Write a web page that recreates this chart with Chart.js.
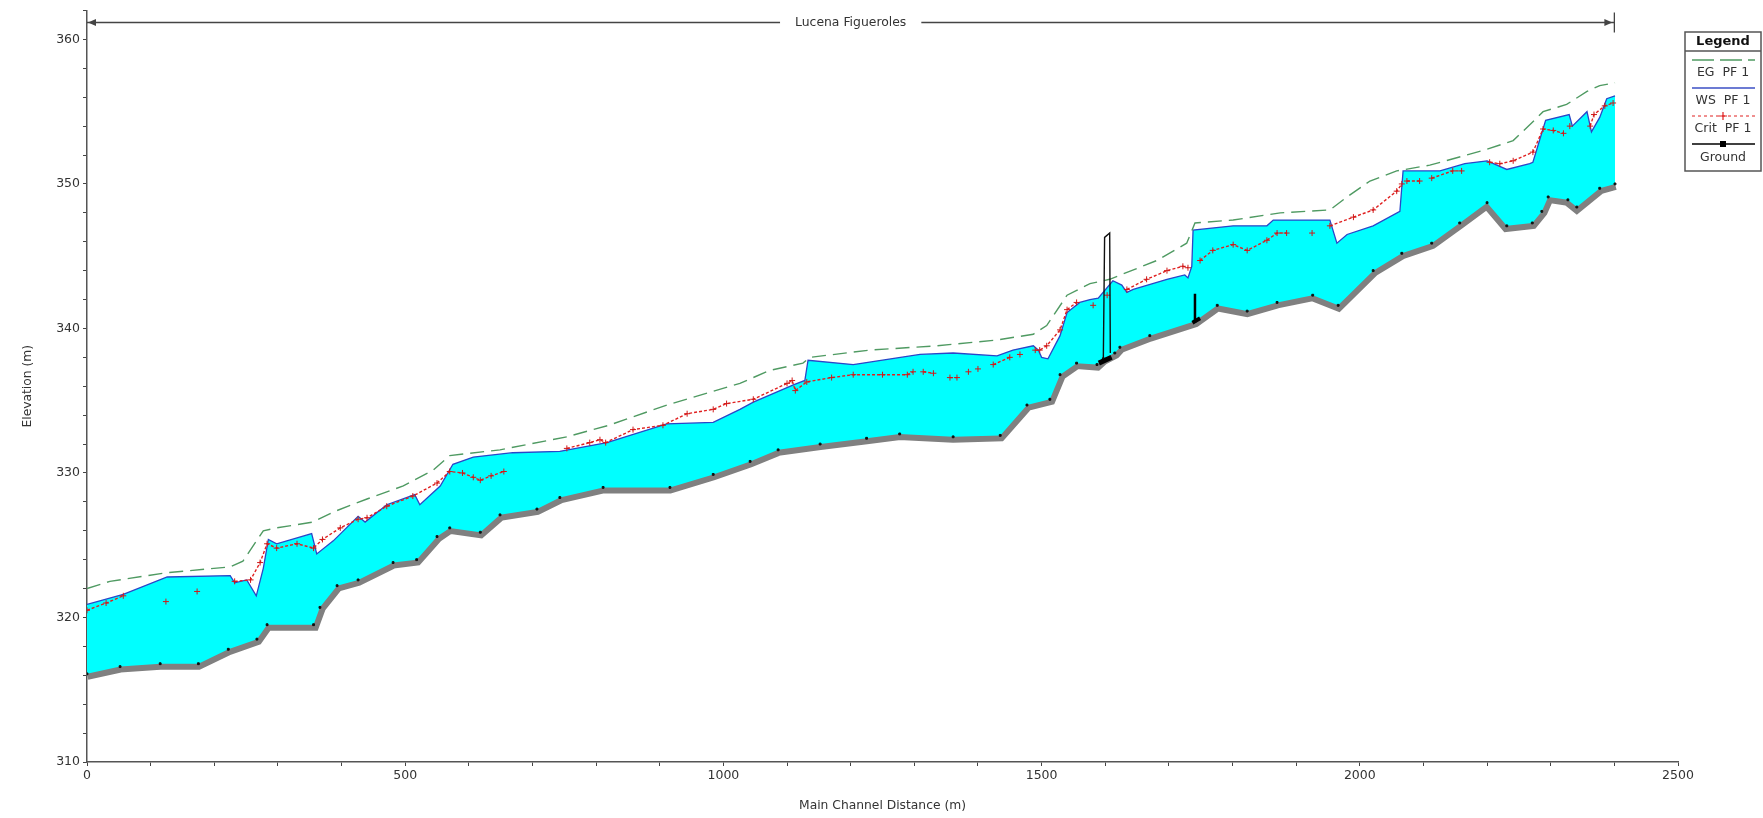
<!DOCTYPE html>
<html>
<head>
<meta charset="utf-8">
<script src="https://cdn.jsdelivr.net/npm/chart.js@4.4.1/dist/chart.umd.min.js"></script>
<style>
html,body{margin:0;padding:0;background:#fff}
#wrap{width:1763px;height:818px}
</style>
</head>
<body>
<div id="wrap"><canvas id="profile" width="1763" height="818"></canvas></div>
<script>

// river reach
let reachName="Lucena Figueroles"
let reachStart=0
let reachEnd=2400
let reachLevel=361.2

// tick labels
let xLabels=[0,500,1000,1500,2000,2500]
let yLabels=[310,320,330,340,350,360]

// Ground
let groundX=[0,52,115,175,222,267,283,356,366,393,426,481,518,550,570,618,649,707,743,811,916,984,1042,1086,1152,1225,1277,1361,1435,1477,1513,1529,1555,1587,1597,1615,1623,1670,1741,1776,1823,1870,1926,1966,2021,2066,2113,2157,2200,2231,2271,2286,2296,2327,2341,2377,2401]
let groundY=[316.1,316.6,316.8,316.8,317.8,318.5,319.5,319.5,320.7,322.2,322.6,323.8,324.0,325.6,326.2,325.9,327.1,327.5,328.3,329.0,329.0,329.9,330.8,331.6,332.0,332.4,332.7,332.5,332.6,334.7,335.1,336.8,337.6,337.5,337.9,338.3,338.7,339.5,340.5,341.6,341.2,341.8,342.3,341.6,344.0,345.2,345.9,347.3,348.7,347.1,347.3,348.1,349.1,348.9,348.4,349.7,350.0]

// WS PF 1
let wsX=[0,57,126,225,232,251,266,277,285,298,353,361,387,426,437,471,515,523,555,575,607,669,743,817,911,984,1026,1047,1110,1128,1133,1204,1309,1361,1430,1455,1487,1495,1500,1510,1529,1540,1560,1576,1589,1612,1626,1634,1644,1697,1725,1730,1736,1738,1801,1854,1864,1953,1964,1980,2021,2063,2068,2126,2165,2200,2210,2231,2267,2272,2292,2329,2334,2357,2364,2377,2388,2401]
let wsY=[320.9,321.6,322.8,322.9,322.4,322.6,321.5,323.4,325.4,325.1,325.8,324.4,325.3,327.0,326.6,327.8,328.5,327.8,329.1,330.6,331.1,331.4,331.5,332.1,333.4,333.5,334.4,334.9,336.1,336.4,337.8,337.5,338.2,338.3,338.1,338.5,338.8,338.5,338.0,337.9,339.5,341.1,341.8,342.0,342.1,343.3,343.0,342.5,342.7,343.4,343.7,343.5,344.3,346.8,347.1,347.1,347.5,347.5,345.9,346.5,347.1,348.1,350.9,350.9,351.4,351.6,351.4,351.0,351.4,351.5,354.4,354.8,354.0,355.0,353.6,354.6,355.9,356.1]

// EG PF 1
let egX=[0,36,126,225,245,277,298,355,387,440,497,544,570,649,754,820,911,1026,1073,1125,1136,1230,1336,1430,1487,1508,1540,1576,1607,1681,1728,1741,1801,1875,1953,1980,2016,2058,2110,2168,2200,2241,2272,2288,2325,2357,2377,2401]
let egY=[322.0,322.5,323.1,323.5,323.9,326.0,326.2,326.6,327.3,328.2,329.1,330.2,331.2,331.6,332.5,333.3,334.7,336.2,337.1,337.6,338.0,338.5,338.8,339.2,339.6,340.2,342.3,343.1,343.4,344.7,345.9,347.3,347.5,348.0,348.2,349.1,350.2,350.9,351.3,352.0,352.4,353.0,354.3,355.0,355.5,356.4,356.8,357.0]

// Crit PF 1 (null = not shown)
let critX=[0,30,57,60,124,150,173,200,232,257,272,283,298,330,356,370,398,426,440,471,512,550,570,590,607,618,635,655,700,754,790,806,815,858,905,943,984,1005,1047,1100,1108,1113,1131,1170,1204,1250,1289,1298,1306,1314,1330,1345,1356,1367,1375,1385,1392,1400,1412,1424,1450,1458,1466,1478,1490,1497,1508,1529,1540,1555,1568,1581,1592,1603,1620,1634,1665,1697,1722,1730,1740,1749,1769,1801,1823,1854,1870,1885,1900,1925,1940,1953,1990,2021,2058,2066,2070,2074,2094,2104,2113,2146,2160,2180,2204,2220,2241,2272,2288,2304,2320,2325,2330,2345,2362,2368,2385,2398]
let critY=[320.5,321.0,321.5,null,321.1,null,321.8,null,322.5,322.6,323.8,325.1,324.8,325.1,324.8,325.4,326.2,326.8,326.9,327.7,328.4,329.3,330.1,330.0,329.7,329.5,329.8,330.1,null,331.7,332.1,332.3,332.1,333.0,333.3,334.1,334.4,334.8,335.1,336.2,336.4,335.7,336.3,336.6,336.8,336.8,336.8,337.0,null,337.0,336.9,null,336.6,336.6,null,337.0,null,337.2,null,337.5,338.0,null,338.2,null,338.5,338.5,338.8,339.9,341.3,341.8,null,341.6,null,342.3,null,342.7,343.4,344.0,344.3,344.2,null,344.7,345.4,345.8,345.4,346.1,346.6,346.6,null,346.6,null,347.1,347.7,348.2,349.5,350.0,null,350.2,350.2,null,350.4,350.9,350.9,null,351.5,351.4,351.6,352.2,353.8,353.7,353.5,null,354.0,null,354.0,354.8,355.4,355.6]

// structures
let bridgeX=[1597,1599,1607,1608]
let bridgeY=[337.9,346.3,346.6,338.3]
let bridgeDeckX=[1590,1610]
let bridgeDeckY=[337.6,338.0]
let weirX=[1741,1741]
let weirY=[340.4,342.4]
let weirBaseX=[1737,1749]
let weirBaseY=[340.4,340.7]

let font="'DejaVu Sans', Verdana, sans-serif"

function pts(xs,ys){
return xs.map(function(x,i){return {x:x,y:ys[i]}})
}

let extras={
id:"extras",
afterDraw(chart){

let ctx=chart.ctx
let xs=chart.scales.x
let ys=chart.scales.y

// reach annotation
let x0=xs.getPixelForValue(reachStart)
let x1=xs.getPixelForValue(reachEnd)
let yr=Math.round(ys.getPixelForValue(reachLevel))+0.5
let xm=xs.getPixelForValue((reachStart+reachEnd)/2)

ctx.save()
ctx.strokeStyle="#444"
ctx.fillStyle="#444"
ctx.lineWidth=1.3
ctx.beginPath()
ctx.moveTo(x0,yr)
ctx.lineTo(x1,yr)
ctx.stroke()
ctx.beginPath()
ctx.moveTo(x1,yr-10)
ctx.lineTo(x1,yr+10)
ctx.stroke()
ctx.beginPath()
ctx.moveTo(x0+1,yr)
ctx.lineTo(x0+9,yr-3.5)
ctx.lineTo(x0+9,yr+3.5)
ctx.closePath()
ctx.fill()
ctx.beginPath()
ctx.moveTo(x1-2,yr)
ctx.lineTo(x1-10,yr-3.5)
ctx.lineTo(x1-10,yr+3.5)
ctx.closePath()
ctx.fill()

ctx.font="12.4px "+font
let tw=ctx.measureText(reachName).width
ctx.fillStyle="#fff"
ctx.fillRect(xm-tw/2-15,yr-8,tw+30,16)
ctx.fillStyle="#333"
ctx.textAlign="center"
ctx.textBaseline="middle"
ctx.fillText(reachName,xm,yr)

// legend box
let bx=1685,by=32,bw=76,bh=139
ctx.fillStyle="#fff"
ctx.fillRect(bx,by,bw,bh)
ctx.strokeStyle="#555"
ctx.lineWidth=1.5
ctx.strokeRect(bx,by,bw,bh)
ctx.beginPath()
ctx.moveTo(bx,by+19)
ctx.lineTo(bx+bw,by+19)
ctx.stroke()
ctx.fillStyle="#111"
ctx.font="bold 13px "+font
ctx.fillText("Legend",bx+bw/2,by+10)

let lx0=bx+7,lx1=bx+bw-6,cx=bx+bw/2
ctx.font="12.5px "+font
ctx.fillStyle="#333"

// EG
ctx.strokeStyle="#4f9a62"
ctx.lineWidth=1.5
ctx.setLineDash([22,6])
ctx.beginPath()
ctx.moveTo(lx0,60)
ctx.lineTo(lx1,60)
ctx.stroke()
ctx.setLineDash([])
ctx.fillText("EG  PF 1",cx,73)

// WS
ctx.strokeStyle="#3b4fc4"
ctx.lineWidth=1.5
ctx.beginPath()
ctx.moveTo(lx0,88)
ctx.lineTo(lx1,88)
ctx.stroke()
ctx.fillText("WS  PF 1",cx,101)

// Crit
ctx.strokeStyle="#e02020"
ctx.lineWidth=1
ctx.setLineDash([3,3])
ctx.beginPath()
ctx.moveTo(lx0,116)
ctx.lineTo(lx1,116)
ctx.stroke()
ctx.setLineDash([])
ctx.lineWidth=1.2
ctx.beginPath()
ctx.moveTo(cx-4,116)
ctx.lineTo(cx+4,116)
ctx.moveTo(cx,112)
ctx.lineTo(cx,120)
ctx.stroke()
ctx.fillText("Crit  PF 1",cx,129)

// Ground
ctx.strokeStyle="#000"
ctx.lineWidth=1.3
ctx.beginPath()
ctx.moveTo(lx0,144)
ctx.lineTo(lx1,144)
ctx.stroke()
ctx.fillStyle="#000"
ctx.fillRect(cx-3,141,6,6)
ctx.fillStyle="#333"
ctx.fillText("Ground",cx,158)

ctx.restore()
}
}

let chart=new Chart(document.getElementById("profile"),{
type:"line",
data:{
datasets:[
{
label:"Ground band",
data:pts(groundX,groundY),
borderColor:"#808080",
borderWidth:12,
borderCapStyle:"butt",
pointRadius:0,
fill:false,
order:10
},
{
label:"WS PF 1",
data:pts(wsX,wsY),
borderColor:"#2a46c8",
borderWidth:1.3,
pointRadius:0,
backgroundColor:"#00ffff",
fill:{target:0},
order:9
},
{
label:"Ground",
data:pts(groundX,groundY),
showLine:false,
pointStyle:"rect",
pointRadius:1.3,
pointBackgroundColor:"#111",
pointBorderColor:"#111",
order:8
},
{
label:"EG PF 1",
data:pts(egX,egY),
borderColor:"#4f9a62",
borderWidth:1.4,
borderDash:[14,7],
pointRadius:0,
fill:false,
order:5
},
{
label:"Crit PF 1",
data:pts(critX,critY),
borderColor:"#e02020",
borderWidth:1.4,
borderDash:[3,2],
pointStyle:"cross",
pointRadius:3,
pointBorderWidth:1,
pointBorderColor:"#d01818",
spanGaps:false,
fill:false,
order:4
},
{
label:"Bridge",
data:pts(bridgeX,bridgeY),
borderColor:"#111",
borderWidth:1.4,
pointRadius:0,
fill:false,
order:2
},
{
label:"Bridge deck",
data:pts(bridgeDeckX,bridgeDeckY),
borderColor:"#000",
borderWidth:5,
borderCapStyle:"butt",
pointRadius:0,
fill:false,
order:2
},
{
label:"Weir",
data:pts(weirX,weirY),
borderColor:"#000",
borderWidth:2.5,
pointRadius:0,
fill:false,
order:1
},
{
label:"Weir base",
data:pts(weirBaseX,weirBaseY),
borderColor:"#000",
borderWidth:4,
pointRadius:0,
fill:false,
order:1
}
]
},
options:{
responsive:false,
animation:false,
layout:{padding:{top:0,right:85,bottom:0,left:0}},
plugins:{legend:{display:false},tooltip:{enabled:false}},
elements:{line:{tension:0}},
scales:{
x:{
type:"linear",
min:0,
max:2500,
afterFit:function(s){s.height=56},
ticks:{
stepSize:100,
autoSkip:false,
maxRotation:0,
padding:2,
color:"#333",
font:{family:font,size:12.5},
callback:function(v){return xLabels.includes(v)?String(v):""}
},
grid:{display:true,drawOnChartArea:false,drawTicks:true,tickLength:4,color:"#444"},
border:{display:true,color:"#555",width:1.5},
title:{display:true,text:"Main Channel Distance (m)",color:"#333",font:{family:font,size:12.3},padding:{top:0,bottom:5}}
},
y:{
type:"linear",
min:310,
max:362,
afterFit:function(s){s.width=87},
ticks:{
stepSize:2,
autoSkip:false,
padding:3,
color:"#333",
font:{family:font,size:12.5},
callback:function(v){return yLabels.includes(v)?String(v):""}
},
grid:{display:true,drawOnChartArea:false,drawTicks:true,tickLength:4,color:"#444"},
border:{display:true,color:"#555",width:1.5},
title:{display:true,text:"Elevation (m)",color:"#333",font:{family:font,size:12.3},padding:{top:20,bottom:0}}
}
}
},
plugins:[extras]
})

</script>
</body>
</html>
